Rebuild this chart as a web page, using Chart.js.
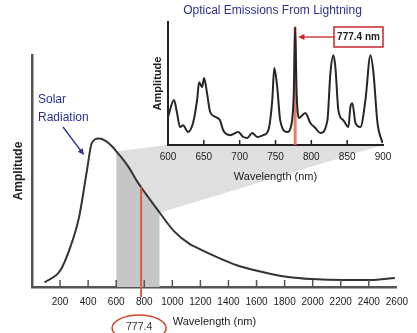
<!DOCTYPE html>
<html>
<head>
<meta charset="utf-8">
<script src="https://cdn.jsdelivr.net/npm/chart.js@4.4.1/dist/chart.umd.min.js"></script>
<style>
  html, body { margin: 0; padding: 0; background: #fff; }
  #wrap { position: relative; width: 417px; height: 333px; overflow: hidden; }
  #mainChart { position: absolute; left: 0; top: 0; }
  #insetChart { position: absolute; left: 145px; top: 0; }
</style>
</head>
<body>
<div id="wrap">
  <canvas id="mainChart" width="417" height="333"></canvas>
  <canvas id="insetChart" width="272" height="190"></canvas>
</div>
<script>
// solar radiation (wavelength nm -> amplitude, arbitrary 0-100)
const solarWavelengths = [90, 200, 266, 335, 391, 426, 475, 524, 580, 600, 636, 685, 755, 777.4, 825, 910, 1013, 1125, 1174, 1314, 1454, 1642, 1824, 1992, 2222, 2411, 2586];
const solarAmplitudes = [2, 7, 16, 30, 50, 62, 64, 63, 60, 58.5, 56, 52, 45, 43, 39, 32, 24, 18.5, 17, 13, 9.5, 6.5, 4.3, 3.4, 3, 3, 3.9];
const solarTicks = [200, 400, 600, 800, 1000, 1200, 1400, 1600, 1800, 2000, 2200, 2400, 2600];

// optical emissions from lightning
const lightningWavelengths = [600, 608.4, 612.6, 616.8, 621, 628, 635, 640.6, 643.4, 647.6, 650.3, 654.5, 658.7, 665.7, 672.7, 677, 686.7, 698, 705, 710.5, 717.5, 724.5, 733, 740, 745.5, 748.3, 752.4, 756.6, 766.4, 772, 775.5, 777.4, 779.5, 783, 791.6, 798.6, 805.6, 812.6, 822.4, 826.6, 830.8, 833.6, 837.8, 844.8, 851.7, 854.5, 857.3, 861.5, 868.5, 875.5, 882.5, 886.7, 892.3, 899.3];
const lightningAmplitudes = [22.8, 36.6, 26, 14.6, 16, 10.6, 18, 36.6, 51, 47, 54.5, 42, 27, 23, 20, 12, 8, 10.6, 6.5, 5.7, 9.8, 6.5, 8, 12, 36.6, 62.6, 47, 20, 10.6, 16, 42, 96, 42, 22, 26, 17.9, 13.8, 9.8, 20, 58.5, 73, 63, 28, 20, 14.6, 31, 34, 18, 14.6, 36.6, 73, 58.5, 18, 1.6];
const lightningTicks = [600, 650, 700, 750, 800, 850, 900];

const bandStart = 600;
const bandEnd = 910;
const markerWavelength = 777.4;
const markerPeak = 96;

const FONT = '"Liberation Sans", Arial, sans-serif';
const BLUE = '#2b318f';
Chart.defaults.font.family = FONT;
Chart.defaults.color = '#222';

function toPoints(xs, ys) {
  return xs.map((x, i) => ({ x: x, y: ys[i] }));
}

function arrowHead(ctx, tipX, tipY, fromX, fromY, size) {
  const a = Math.atan2(tipY - fromY, tipX - fromX);
  ctx.beginPath();
  ctx.moveTo(tipX, tipY);
  ctx.lineTo(tipX - size * Math.cos(a - 0.45), tipY - size * Math.sin(a - 0.45));
  ctx.lineTo(tipX - size * Math.cos(a + 0.45), tipY - size * Math.sin(a + 0.45));
  ctx.closePath();
  ctx.fill();
}

// ---------- inset ----------
const insetCanvas = document.getElementById('insetChart');

const insetDecor = {
  id: 'insetDecor',
  beforeDatasetsDraw(chart) {
    const { ctx, chartArea, scales: { x, y } } = chart;
    const px = x.getPixelForValue(markerWavelength);
    ctx.save();
    ctx.strokeStyle = 'rgba(226,104,72,0.85)';
    ctx.lineWidth = 3;
    ctx.beginPath();
    ctx.moveTo(px, y.getPixelForValue(markerPeak));
    ctx.lineTo(px, chartArea.bottom);
    ctx.stroke();
    ctx.restore();
  },
  afterDraw(chart) {
    const { ctx, chartArea, scales: { x } } = chart;
    ctx.save();
    ctx.fillStyle = BLUE;
    ctx.font = '12px ' + FONT;
    ctx.textAlign = 'center';
    ctx.textBaseline = 'middle';
    ctx.fillText('Optical Emissions From Lightning', (chartArea.left + chartArea.right) / 2 - 3, 11);

    // inward tick marks
    ctx.strokeStyle = '#222';
    ctx.lineWidth = 1.5;
    lightningTicks.slice(1, -1).forEach(v => {
      const tx = x.getPixelForValue(v);
      ctx.beginPath();
      ctx.moveTo(tx, chartArea.bottom);
      ctx.lineTo(tx, chartArea.bottom - 5);
      ctx.stroke();
    });

    // label box
    const bw = 49, bh = 20;
    const bx = chartArea.right - bw, by = chartArea.top + 5;
    ctx.fillStyle = '#fff';
    ctx.fillRect(bx, by, bw, bh);
    ctx.strokeStyle = '#c8252b';
    ctx.lineWidth = 1.5;
    ctx.strokeRect(bx, by, bw, bh);
    ctx.fillStyle = '#222';
    ctx.font = 'bold 10px ' + FONT;
    ctx.fillText('777.4 nm', bx + bw / 2, by + bh / 2 + 0.5);

    const px = x.getPixelForValue(markerWavelength);
    const cy = by + bh / 2;
    ctx.strokeStyle = '#c8252b';
    ctx.fillStyle = '#c8252b';
    ctx.lineWidth = 1.3;
    ctx.beginPath();
    ctx.moveTo(bx, cy);
    ctx.lineTo(px + 8, cy);
    ctx.stroke();
    arrowHead(ctx, px + 3, cy, bx, cy, 7);
    ctx.restore();
  }
};

const insetChart = new Chart(insetCanvas, {
  type: 'line',
  data: {
    datasets: [{
      data: toPoints(lightningWavelengths, lightningAmplitudes),
      borderColor: '#262626',
      borderWidth: 2,
      pointRadius: 0,
      cubicInterpolationMode: 'monotone',
      fill: false
    }]
  },
  options: {
    responsive: false,
    animation: false,
    layout: { padding: { top: 22, right: 34, left: 0, bottom: 0 } },
    plugins: { legend: { display: false }, tooltip: { enabled: false } },
    scales: {
      x: {
        type: 'linear',
        min: 600,
        max: 900,
        afterBuildTicks(s) { s.ticks = lightningTicks.map(v => ({ value: v })); },
        afterFit(s) { s.height = 45; },
        grid: { drawOnChartArea: false, drawTicks: false },
        border: { color: '#222', width: 2 },
        ticks: { font: { size: 10 }, color: '#222', padding: 6, maxRotation: 0, autoSkip: false, callback: v => String(v) },
        title: { display: true, text: 'Wavelength (nm)', font: { size: 11 }, color: '#222', padding: { top: 0, bottom: 6 } }
      },
      y: {
        min: 0,
        max: 100,
        afterFit(s) { s.width = 23; },
        grid: { drawOnChartArea: false, drawTicks: false },
        border: { color: '#222', width: 2 },
        ticks: { display: false },
        title: { display: true, text: 'Amplitude', font: { size: 11, weight: 'bold' }, color: '#222', padding: { top: 6, bottom: 0 } }
      }
    }
  },
  plugins: [insetDecor]
});

// ---------- main ----------
const mainDecor = {
  id: 'mainDecor',
  beforeDatasetsDraw(chart) {
    const { ctx, scales: { x, y } } = chart;
    const ia = insetChart.chartArea;
    const ox = insetCanvas.offsetLeft, oy = insetCanvas.offsetTop;
    const a0 = solarAmplitudes[solarWavelengths.indexOf(bandStart)];
    const a1 = solarAmplitudes[solarWavelengths.indexOf(bandEnd)];
    ctx.save();
    ctx.fillStyle = '#dfdfdf';
    ctx.beginPath();
    ctx.moveTo(x.getPixelForValue(bandStart), y.getPixelForValue(a0));
    ctx.lineTo(ox + ia.left, oy + ia.bottom);
    ctx.lineTo(ox + ia.right, oy + ia.bottom);
    ctx.lineTo(x.getPixelForValue(bandEnd), y.getPixelForValue(a1));
    ctx.closePath();
    ctx.fill();
    ctx.restore();
  },
  afterDraw(chart) {
    const { ctx, chartArea, scales: { x, y } } = chart;
    ctx.save();

    // inward tick marks
    ctx.strokeStyle = '#555';
    ctx.lineWidth = 1.5;
    solarTicks.slice(0, -1).forEach(v => {
      const tx = x.getPixelForValue(v);
      ctx.beginPath();
      ctx.moveTo(tx, chartArea.bottom);
      ctx.lineTo(tx, chartArea.bottom - 7);
      ctx.stroke();
    });

    // 777.4 marker
    const px = x.getPixelForValue(markerWavelength);
    const amp = solarAmplitudes[solarWavelengths.indexOf(markerWavelength)];
    ctx.strokeStyle = '#d4603c';
    ctx.lineWidth = 2;
    ctx.beginPath();
    ctx.moveTo(px, y.getPixelForValue(amp));
    ctx.lineTo(px, chartArea.bottom + 10);
    ctx.stroke();

    ctx.strokeStyle = '#d0452a';
    ctx.lineWidth = 1.5;
    ctx.beginPath();
    ctx.ellipse(px - 2, 328, 27, 13, 0, 0, Math.PI * 2);
    ctx.stroke();
    ctx.fillStyle = '#333';
    ctx.font = '10.5px ' + FONT;
    ctx.textAlign = 'center';
    ctx.textBaseline = 'middle';
    ctx.fillText('777.4', px - 2, 327);

    // Solar Radiation annotation
    ctx.fillStyle = BLUE;
    ctx.font = '12px ' + FONT;
    ctx.textAlign = 'left';
    ctx.fillText('Solar', chartArea.left + 6, 100);
    ctx.fillText('Radiation', chartArea.left + 6, 118);
    ctx.strokeStyle = BLUE;
    ctx.lineWidth = 1.3;
    ctx.beginPath();
    ctx.moveTo(63, 127);
    ctx.lineTo(81, 151);
    ctx.stroke();
    arrowHead(ctx, 84, 155, 63, 127, 7);
    ctx.restore();
  }
};

const solarPoints = toPoints(solarWavelengths, solarAmplitudes);

new Chart(document.getElementById('mainChart'), {
  type: 'line',
  data: {
    datasets: [
      {
        data: solarPoints,
        borderColor: '#333',
        borderWidth: 2,
        pointRadius: 0,
        cubicInterpolationMode: 'monotone',
        fill: false
      },
      {
        data: solarPoints.filter(p => p.x >= bandStart && p.x <= bandEnd),
        borderWidth: 0,
        borderColor: 'rgba(0,0,0,0)',
        backgroundColor: '#c6c6c6',
        pointRadius: 0,
        cubicInterpolationMode: 'monotone',
        fill: 'origin'
      }
    ]
  },
  options: {
    responsive: false,
    animation: false,
    layout: { padding: { top: 55, right: 13, left: 0, bottom: 0 } },
    plugins: { legend: { display: false }, tooltip: { enabled: false } },
    scales: {
      x: {
        type: 'linear',
        min: 0,
        max: 2600,
        afterBuildTicks(s) { s.ticks = solarTicks.map(v => ({ value: v })); },
        afterFit(s) { s.height = 46; },
        grid: { drawOnChartArea: false, drawTicks: false },
        border: { color: '#555', width: 2.5 },
        ticks: { font: { size: 10 }, color: '#222', padding: 9, maxRotation: 0, autoSkip: false, callback: v => String(v) },
        title: { display: true, text: 'Wavelength (nm)', font: { size: 11 }, color: '#222', padding: { top: 0, bottom: 4 } }
      },
      y: {
        min: 0,
        max: 100,
        afterFit(s) { s.width = 32; },
        grid: { drawOnChartArea: false, drawTicks: false },
        border: { color: '#555', width: 2.5 },
        ticks: { display: false },
        title: { display: true, text: 'Amplitude', font: { size: 12, weight: 'bold' }, color: '#222', padding: { top: 11, bottom: 0 } }
      }
    }
  },
  plugins: [mainDecor]
});
</script>
</body>
</html>
